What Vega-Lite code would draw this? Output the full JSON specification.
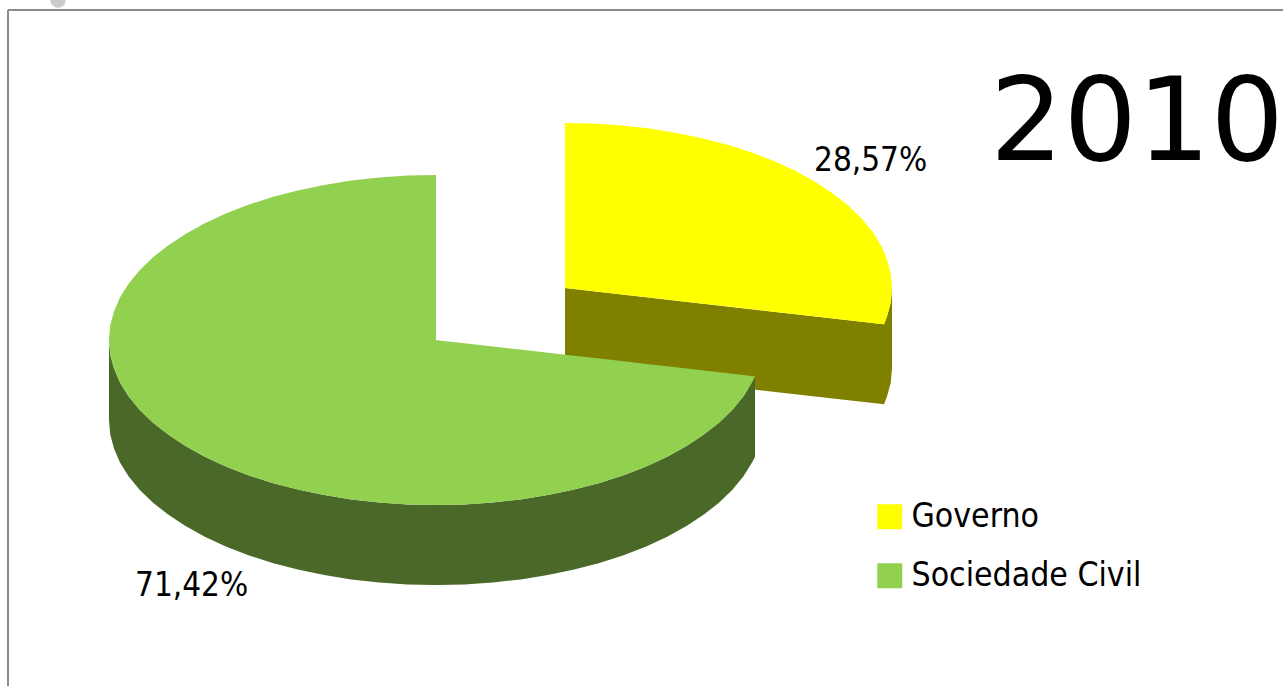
{"$schema":"https://vega.github.io/schema/vega-lite/v6.json","width":1284,"height":687,"autosize":{"type":"fit","contains":"padding"},"padding":0,"background":"white","config":{"view":{"stroke":null}},"layer":[
{"data":{"values":[{"x1":8,"y1":10,"x2":1283,"y2":10},{"x1":8,"y1":10,"x2":8,"y2":686}]},"mark":{"type":"rule","color":"#8a8a8a","strokeWidth":2,"clip":true},"encoding":{"x":{"field":"x1","type":"quantitative","scale":{"domain":[0,1284],"nice":false,"zero":false},"axis":null},"y":{"field":"y1","type":"quantitative","scale":{"domain":[687,0],"nice":false,"zero":false},"axis":null},"x2":{"field":"x2"},"y2":{"field":"y2"}}},
{"data":{"values":[{"x":58,"y":0}]},"mark":{"type":"point","filled":true,"shape":"circle","size":240,"color":"#a8a8a8","opacity":0.6,"clip":true},"encoding":{"x":{"field":"x","type":"quantitative"},"y":{"field":"y","type":"quantitative"}}},
{"data":{"values":[
{"s":"Governo lateral","p":"g-front","x":565,"y":288,"y2":368},{"s":"Governo lateral","p":"g-front","x":884,"y":324.3,"y2":404.3},
{"s":"Governo lateral","p":"g-edge","x":884,"y":324.3,"y2":404.3},{"s":"Governo lateral","p":"g-edge","x":887,"y":316.6,"y2":396.6},{"s":"Governo lateral","p":"g-edge","x":890.8,"y":302.4,"y2":382.4},{"s":"Governo lateral","p":"g-edge","x":892,"y":288,"y2":368},
{"s":"Governo","p":"g-top","x":565,"y":123,"y2":288},{"s":"Governo","p":"g-top","x":593.5,"y":123.6,"y2":291.2},{"s":"Governo","p":"g-top","x":621.8,"y":125.5,"y2":294.5},{"s":"Governo","p":"g-top","x":649.6,"y":128.6,"y2":297.6},{"s":"Governo","p":"g-top","x":676.8,"y":132.9,"y2":300.7},{"s":"Governo","p":"g-top","x":703.2,"y":138.5,"y2":303.7},{"s":"Governo","p":"g-top","x":728.5,"y":145.1,"y2":306.6},{"s":"Governo","p":"g-top","x":752.6,"y":152.8,"y2":309.3},{"s":"Governo","p":"g-top","x":775.2,"y":161.6,"y2":311.9},{"s":"Governo","p":"g-top","x":796.2,"y":171.3,"y2":314.3},{"s":"Governo","p":"g-top","x":815.5,"y":181.9,"y2":316.5},{"s":"Governo","p":"g-top","x":832.9,"y":193.4,"y2":318.5},{"s":"Governo","p":"g-top","x":848.2,"y":205.5,"y2":320.2},{"s":"Governo","p":"g-top","x":861.4,"y":218.3,"y2":321.7},{"s":"Governo","p":"g-top","x":872.3,"y":231.6,"y2":323},{"s":"Governo","p":"g-top","x":880.9,"y":245.3,"y2":324},{"s":"Governo","p":"g-top","x":884,"y":251.7,"y2":324.3},{"s":"Governo","p":"g-top","x":887,"y":259.4,"y2":316.6},{"s":"Governo","p":"g-top","x":890.8,"y":273.6,"y2":302.4},{"s":"Governo","p":"g-top","x":892,"y":288,"y2":288},
{"s":"Sociedade Civil lateral","p":"c-side","x":109,"y":340,"y2":420},{"s":"Sociedade Civil lateral","p":"c-side","x":110.2,"y":354.4,"y2":434.4},{"s":"Sociedade Civil lateral","p":"c-side","x":114,"y":368.6,"y2":448.6},{"s":"Sociedade Civil lateral","p":"c-side","x":120.1,"y":382.7,"y2":462.7},{"s":"Sociedade Civil lateral","p":"c-side","x":128.7,"y":396.4,"y2":476.4},{"s":"Sociedade Civil lateral","p":"c-side","x":139.6,"y":409.7,"y2":489.7},{"s":"Sociedade Civil lateral","p":"c-side","x":152.8,"y":422.5,"y2":502.5},{"s":"Sociedade Civil lateral","p":"c-side","x":168.1,"y":434.6,"y2":514.6},{"s":"Sociedade Civil lateral","p":"c-side","x":185.5,"y":446.1,"y2":526.1},{"s":"Sociedade Civil lateral","p":"c-side","x":204.8,"y":456.7,"y2":536.7},{"s":"Sociedade Civil lateral","p":"c-side","x":225.8,"y":466.4,"y2":546.4},{"s":"Sociedade Civil lateral","p":"c-side","x":248.4,"y":475.2,"y2":555.2},{"s":"Sociedade Civil lateral","p":"c-side","x":272.5,"y":482.9,"y2":562.9},{"s":"Sociedade Civil lateral","p":"c-side","x":297.8,"y":489.5,"y2":569.5},{"s":"Sociedade Civil lateral","p":"c-side","x":324.2,"y":495.1,"y2":575.1},{"s":"Sociedade Civil lateral","p":"c-side","x":351.4,"y":499.4,"y2":579.4},{"s":"Sociedade Civil lateral","p":"c-side","x":379.2,"y":502.5,"y2":582.5},{"s":"Sociedade Civil lateral","p":"c-side","x":407.5,"y":504.4,"y2":584.4},{"s":"Sociedade Civil lateral","p":"c-side","x":436,"y":505,"y2":585},{"s":"Sociedade Civil lateral","p":"c-side","x":464.5,"y":504.4,"y2":584.4},{"s":"Sociedade Civil lateral","p":"c-side","x":492.8,"y":502.5,"y2":582.5},{"s":"Sociedade Civil lateral","p":"c-side","x":520.6,"y":499.4,"y2":579.4},{"s":"Sociedade Civil lateral","p":"c-side","x":547.8,"y":495.1,"y2":575.1},{"s":"Sociedade Civil lateral","p":"c-side","x":574.2,"y":489.5,"y2":569.5},{"s":"Sociedade Civil lateral","p":"c-side","x":599.5,"y":482.9,"y2":562.9},{"s":"Sociedade Civil lateral","p":"c-side","x":623.6,"y":475.2,"y2":555.2},{"s":"Sociedade Civil lateral","p":"c-side","x":646.2,"y":466.4,"y2":546.4},{"s":"Sociedade Civil lateral","p":"c-side","x":667.2,"y":456.7,"y2":536.7},{"s":"Sociedade Civil lateral","p":"c-side","x":686.5,"y":446.1,"y2":526.1},{"s":"Sociedade Civil lateral","p":"c-side","x":703.9,"y":434.6,"y2":514.6},{"s":"Sociedade Civil lateral","p":"c-side","x":719.2,"y":422.5,"y2":502.5},{"s":"Sociedade Civil lateral","p":"c-side","x":732.4,"y":409.7,"y2":489.7},{"s":"Sociedade Civil lateral","p":"c-side","x":743.3,"y":396.4,"y2":476.4},{"s":"Sociedade Civil lateral","p":"c-side","x":751.9,"y":382.7,"y2":462.7},{"s":"Sociedade Civil lateral","p":"c-side","x":755,"y":376.3,"y2":457},
{"s":"Sociedade Civil","p":"c-left","x":109,"y":340,"y2":340},{"s":"Sociedade Civil","p":"c-left","x":110.2,"y":325.6,"y2":354.4},{"s":"Sociedade Civil","p":"c-left","x":114,"y":311.4,"y2":368.6},{"s":"Sociedade Civil","p":"c-left","x":120.1,"y":297.3,"y2":382.7},{"s":"Sociedade Civil","p":"c-left","x":128.7,"y":283.6,"y2":396.4},{"s":"Sociedade Civil","p":"c-left","x":139.6,"y":270.3,"y2":409.7},{"s":"Sociedade Civil","p":"c-left","x":152.8,"y":257.5,"y2":422.5},{"s":"Sociedade Civil","p":"c-left","x":168.1,"y":245.4,"y2":434.6},{"s":"Sociedade Civil","p":"c-left","x":185.5,"y":233.9,"y2":446.1},{"s":"Sociedade Civil","p":"c-left","x":204.8,"y":223.3,"y2":456.7},{"s":"Sociedade Civil","p":"c-left","x":225.8,"y":213.6,"y2":466.4},{"s":"Sociedade Civil","p":"c-left","x":248.4,"y":204.8,"y2":475.2},{"s":"Sociedade Civil","p":"c-left","x":272.5,"y":197.1,"y2":482.9},{"s":"Sociedade Civil","p":"c-left","x":297.8,"y":190.5,"y2":489.5},{"s":"Sociedade Civil","p":"c-left","x":324.2,"y":184.9,"y2":495.1},{"s":"Sociedade Civil","p":"c-left","x":351.4,"y":180.6,"y2":499.4},{"s":"Sociedade Civil","p":"c-left","x":379.2,"y":177.5,"y2":502.5},{"s":"Sociedade Civil","p":"c-left","x":407.5,"y":175.6,"y2":504.4},{"s":"Sociedade Civil","p":"c-left","x":436,"y":175,"y2":505},
{"s":"Sociedade Civil","p":"c-right","x":435,"y":339.9,"y2":505},{"s":"Sociedade Civil","p":"c-right","x":464.5,"y":343.2,"y2":504.4},{"s":"Sociedade Civil","p":"c-right","x":492.8,"y":346.5,"y2":502.5},{"s":"Sociedade Civil","p":"c-right","x":520.6,"y":349.6,"y2":499.4},{"s":"Sociedade Civil","p":"c-right","x":547.8,"y":352.7,"y2":495.1},{"s":"Sociedade Civil","p":"c-right","x":574.2,"y":355.7,"y2":489.5},{"s":"Sociedade Civil","p":"c-right","x":599.5,"y":358.6,"y2":482.9},{"s":"Sociedade Civil","p":"c-right","x":623.6,"y":361.3,"y2":475.2},{"s":"Sociedade Civil","p":"c-right","x":646.2,"y":363.9,"y2":466.4},{"s":"Sociedade Civil","p":"c-right","x":667.2,"y":366.3,"y2":456.7},{"s":"Sociedade Civil","p":"c-right","x":686.5,"y":368.5,"y2":446.1},{"s":"Sociedade Civil","p":"c-right","x":703.9,"y":370.5,"y2":434.6},{"s":"Sociedade Civil","p":"c-right","x":719.2,"y":372.2,"y2":422.5},{"s":"Sociedade Civil","p":"c-right","x":732.4,"y":373.7,"y2":409.7},{"s":"Sociedade Civil","p":"c-right","x":743.3,"y":375,"y2":396.4},{"s":"Sociedade Civil","p":"c-right","x":751.9,"y":376,"y2":382.7},{"s":"Sociedade Civil","p":"c-right","x":755,"y":376.3,"y2":376.3}
]},"mark":{"type":"area","interpolate":"linear","line":false},"encoding":{"x":{"field":"x","type":"quantitative"},"y":{"field":"y","type":"quantitative"},"y2":{"field":"y2"},"detail":{"field":"p"},"color":{"field":"s","type":"nominal","scale":{"domain":["Governo","Sociedade Civil","Governo lateral","Sociedade Civil lateral"],"range":["#ffff00","#92d050","#808000","#4a6828"]},"legend":{"title":null,"orient":"none","legendX":873,"legendY":500,"values":["Governo","Sociedade Civil"],"symbolType":"square","symbolSize":625,"symbolStrokeWidth":0,"labelFont":"DejaVu Sans Condensed","labelFontSize":33.5,"labelColor":"#000000","labelOffset":5,"rowPadding":24,"labelLimit":400}}}},
{"data":{"values":[{"x":814,"y":171,"label":"28,57%"},{"x":135,"y":596,"label":"71,42%"}]},"mark":{"type":"text","align":"left","baseline":"alphabetic","font":"DejaVu Sans Condensed","fontSize":33,"color":"#000000"},"encoding":{"x":{"field":"x","type":"quantitative"},"y":{"field":"y","type":"quantitative"},"text":{"field":"label"}}},
{"data":{"values":[{"x":990,"y":160,"label":"2010"}]},"mark":{"type":"text","align":"left","baseline":"alphabetic","font":"DejaVu Sans","fontSize":115.5,"color":"#000000"},"encoding":{"x":{"field":"x","type":"quantitative"},"y":{"field":"y","type":"quantitative"},"text":{"field":"label"}}}
]}
